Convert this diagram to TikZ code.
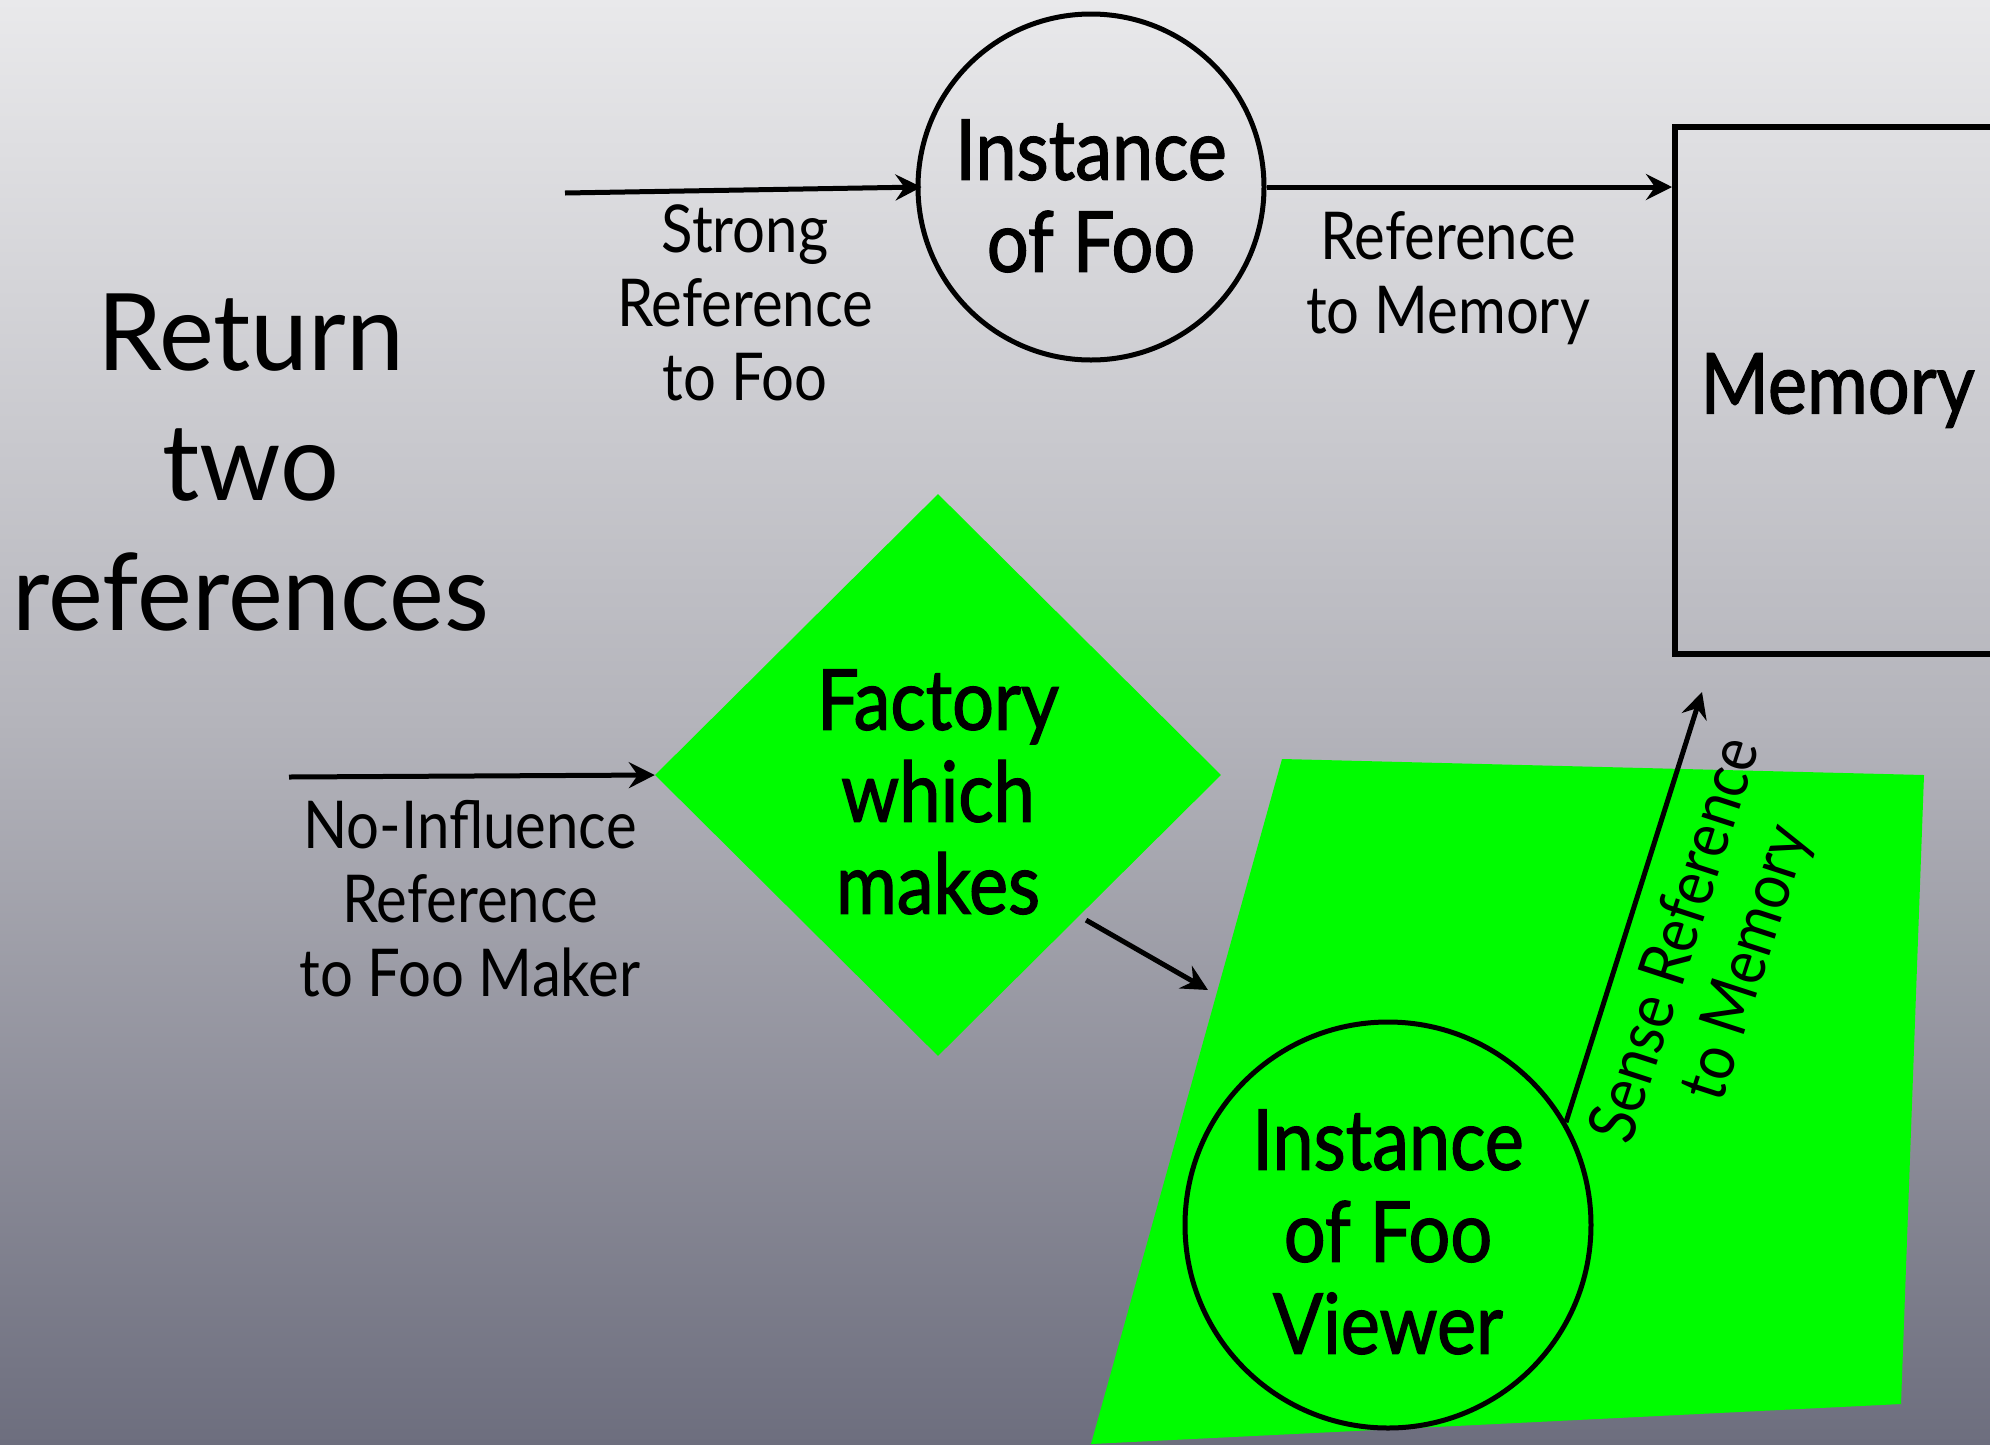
\documentclass[tikz,border=0pt]{standalone}
\usepackage{fontspec}
\setmainfont{Lato}[FakeStretch=0.88]
\newfontfamily\titlefont{Lato}[FakeStretch=0.97]
\newfontfamily\shapefont{Lato}[FakeStretch=0.88,FakeBold=1.5]
\usetikzlibrary{shapes.geometric,arrows.meta,calc}
\definecolor{bgtop}{HTML}{E9E9EB}
\definecolor{bgmid}{HTML}{B4B4BB}
\definecolor{bgbot}{HTML}{6D6E7E}
\definecolor{vgreen}{RGB}{0,252,0}
\tikzset{
  conn/.style={line width=5pt, -{Stealth[length=26pt,width=26pt,inset=9pt]}},
  shapetext/.style={font=\shapefont\fontsize{84}{92}\selectfont, align=center, text=black},
  lbl/.style={font=\fontsize{66}{74}\selectfont, align=center, text=black},
  ring/.style={circle, draw=black, line width=5pt, inner sep=0pt},
}
\begin{document}
\begin{tikzpicture}[x=1pt,y=-1pt]
\useasboundingbox (0,0) rectangle (1990,1444);
\clip (0,0) rectangle (1990,1444);
\shade[top color=bgtop, bottom color=bgbot, middle color=bgmid] (0,0) rectangle (1990,1444);

% title
\node[font=\titlefont\fontsize{107}{130}\selectfont, align=center] (title) at (251,463) {Return\\two\\references};

% top row
\node[ring, minimum size=346pt] (foo) at (1091,187) {};
\node[shapetext] (footxt) at (1091,196) {Instance\\of Foo};
\node[draw=black, line width=6pt, minimum width=325pt, minimum height=527pt, inner sep=0pt, shapetext] (mem) at (1837.5,390.5) {Memory};
\coordinate (s1) at (565,193);
\draw[conn] (s1) -- ($(foo.west)+(6,0)$);
\node[lbl] (strong) at (745,303) {Strong\\Reference\\to Foo};
\draw[conn] (foo.east) -- (foo.east -| mem.west);
\node[lbl] (refmem) at (1448,278) {Reference\\to Memory};

% factory
\node[diamond, fill=vgreen, minimum width=566pt, minimum height=562pt, inner sep=0pt] (fac) at (938,775) {};
\node[shapetext] (factxt) at (938,792) {Factory\\which\\makes};
\coordinate (s3) at (289,777);
\draw[conn] (s3) -- (fac.west);
\node[lbl] (noinf) at (470,899) {No-Influence\\Reference\\to Foo Maker};

% viewer area
\fill[vgreen] (1282,759) -- (1924,775) -- (1901,1404) -- (1091,1444) -- cycle;
\node[ring, minimum size=406pt] (viewer) at (1388,1225) {};
\node[shapetext] (viewtxt) at (1388,1232) {Instance\\of Foo\\Viewer};
\coordinate (e4) at (1208,990);
\draw[conn, shorten <=8pt] (fac.-45) -- (e4);
\coordinate (e5) at (1702,692);
\draw[conn] (viewer.30) -- (e5);
\node[lbl, rotate=72] (sense) at (1713,952) {Sense Reference\\to Memory};
\end{tikzpicture}
\end{document}
